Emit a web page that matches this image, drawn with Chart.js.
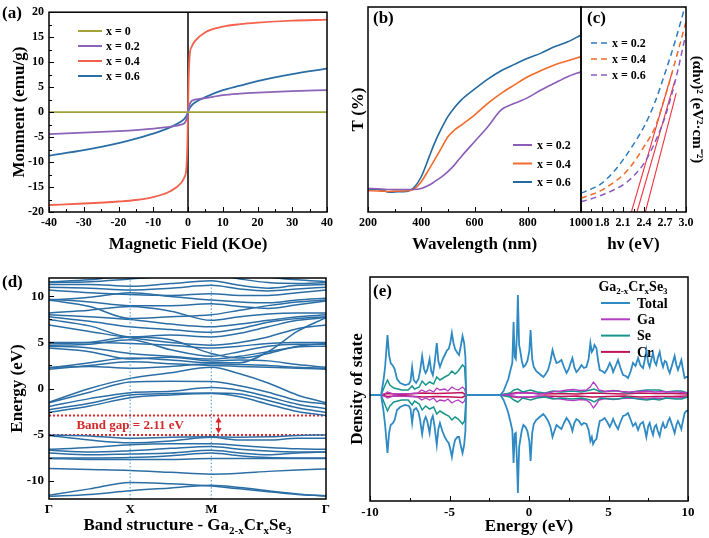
<!DOCTYPE html>
<html>
<head>
<meta charset="utf-8">
<script src="https://cdn.jsdelivr.net/npm/chart.js@4.4.1/dist/chart.umd.min.js"></script>
<style>
  body { margin: 0; background: #fff; }
  #wrap { position: relative; width: 709px; height: 538px; overflow: hidden; background: #fff; }
  #wrap canvas { position: absolute; }
</style>
</head>
<body>
<div id="wrap">
  <canvas id="chartA" width="345" height="262" style="left:0;top:0"></canvas>
  <canvas id="chartB" width="262" height="262" style="left:340px;top:0"></canvas>
  <canvas id="chartC" width="149" height="262" style="left:560px;top:0"></canvas>
  <canvas id="chartD" width="345" height="276" style="left:0;top:262px"></canvas>
  <canvas id="chartE" width="369" height="276" style="left:340px;top:262px"></canvas>
</div>
<script>
// (a) magnetisation loops
const fieldA = [-40, -30, -20, -15, -10, -5, -2, -1, -0.5, -0.2, 0, 0.2, 0.5, 1, 2, 5, 10, 15, 20, 30, 40];
const moment0 = [0, 0, 0, 0, 0, 0, 0, 0, 0, 0, 0, 0, 0, 0, 0, 0, 0, 0, 0, 0, 0];
const moment02 = [-4.4, -4.1, -3.8, -3.6, -3.3, -2.9, -2.5, -2.2, -1.6, -0.8, 0, 0.8, 1.6, 2.2, 2.5, 2.8, 3.4, 3.7, 3.9, 4.2, 4.4];
const moment04 = [-18.6, -18.3, -17.9, -17.6, -17.0, -15.8, -14.2, -13.0, -11.5, -7.0, 0, 7.0, 11.5, 13.0, 14.2, 16.0, 17.1, 17.6, 17.9, 18.3, 18.5];
const moment06 = [-8.7, -7.6, -6.2, -5.3, -4.3, -3.0, -1.9, -1.3, -0.8, -0.4, 0, 0.4, 0.8, 1.3, 1.9, 3.0, 4.4, 5.3, 6.2, 7.6, 8.7];

// (b) transmittance
const wavelength = [200, 250, 280, 300, 350, 370, 400, 430, 450, 475, 500, 525, 550, 600, 650, 700, 750, 800, 850, 900, 950, 1000];
const trans02 = [11.5, 11.2, 11.0, 11.0, 11.0, 11.0, 11.5, 13.2, 14.8, 17, 19.7, 23, 27, 34.3, 41.6, 49.8, 53, 55.8, 59.5, 62.8, 66, 68.4];
const trans04 = [10.4, 10.2, 10.0, 10.2, 10.4, 11.0, 14.8, 21, 25.4, 31, 36.7, 40, 42.4, 47.3, 53, 57.9, 62, 66, 69, 71.7, 73.8, 75.8];
const trans06 = [11.2, 10.8, 9.6, 9.8, 10.2, 11.5, 17.2, 27, 33.6, 40.5, 46.5, 51, 54.6, 59.9, 64.8, 68.9, 72, 75, 77.5, 80.6, 83, 86.3];

// (c) Tauc plot
const photonE = [1.5, 1.65, 1.8, 1.95, 2.1, 2.25, 2.4, 2.55, 2.7, 2.85, 3.0];
const tauc02 = [9.1, 11.3, 14.1, 19, 25.4, 33, 41.6, 53, 67.7, 83.9, 102];
const tauc04 = [6.7, 8.5, 10.7, 14, 18, 24, 31.9, 40.7, 56.2, 74, 92.8];
const tauc06 = [5, 6.5, 8.3, 10.5, 13.2, 17.5, 23.7, 33.5, 46.3, 64.4, 87.2];
const fit02 = [[2.22, 0], [2.80, 68]];
const fit04 = [[2.30, 0], [2.84, 64]];
const fit06 = [[2.42, 0], [2.86, 58]];

// (d) band structure, path G-X-M-G
const kPts = [0, 0.5, 1, 1.5, 2, 2.35, 2.7, 3.06, 3.414];
const kTicks = [0, 1, 2, 3.414];
const kLabels = ['Γ', 'X', 'M', 'Γ'];
const bands = [
  [-5.05, -5.15, -5.4, -5.3, -5.25, -5.3, -5.25, -5.1, -5.05],
  [-5.1, -5.6, -5.9, -5.7, -5.3, -5.6, -5.6, -5.4, -5.4],
  [-6.6, -6.4, -6.1, -6.0, -6.0, -6.2, -6.4, -6.55, -6.6],
  [-6.7, -6.9, -6.75, -6.5, -6.3, -6.6, -6.8, -6.9, -6.9],
  [-7.0, -7.2, -7.1, -7.0, -6.7, -7.0, -7.2, -7.0, -6.9],
  [-7.55, -7.55, -7.5, -7.3, -7.0, -7.3, -7.5, -7.55, -7.55],
  [-7.6, -7.7, -7.7, -7.7, -7.6, -7.6, -7.6, -7.6, -7.6],
  [-8.7, -8.8, -8.9, -9.1, -9.3, -9.2, -9.0, -8.85, -8.75],
  [-11.6, -10.9, -10.2, -10.35, -10.6, -10.9, -11.2, -11.5, -11.65],
  [-11.7, -11.5, -11.1, -10.8, -10.5, -10.75, -11.1, -11.45, -11.7],
  [-2.6, -1.9, -1.0, -0.7, -0.55, -0.9, -1.7, -2.5, -2.94],
  [-2.3, -1.6, -0.7, -0.55, -0.5, -0.6, -1.3, -2.1, -2.6],
  [-1.95, -1.1, -0.45, -0.3, 0.1, -0.2, -0.9, -1.7, -2.2],
  [-1.55, -0.4, 0.7, 0.8, 0.75, 0.3, -0.4, -1.3, -1.7],
  [-1.5, 0.0, 1.1, 1.7, 2.3, 1.6, 0.6, -0.7, -1.55],
  [2.1, 2.5, 2.9, 2.7, 2.5, 2.4, 2.3, 2.2, 2.1],
  [2.3, 2.4, 2.2, 2.4, 2.7, 2.6, 2.5, 2.3, 2.2],
  [2.2, 2.8, 3.3, 3.1, 2.8, 2.8, 4.0, 6.2, 7.7],
  [4.4, 4.0, 3.2, 3.4, 3.0, 3.1, 3.0, 2.6, 2.3],
  [4.6, 4.4, 3.8, 3.5, 3.2, 3.5, 4.0, 4.5, 4.6],
  [4.7, 4.8, 5.3, 4.2, 3.5, 4.0, 4.6, 4.8, 4.8],
  [4.9, 5.0, 5.6, 5.3, 3.8, 3.3, 3.8, 4.6, 4.9],
  [5.0, 5.0, 4.9, 4.7, 4.4, 4.6, 4.9, 5.0, 5.0],
  [6.9, 6.2, 5.5, 5.0, 4.7, 5.0, 5.6, 6.5, 6.9],
  [7.5, 6.8, 5.6, 5.8, 5.6, 6.0, 6.7, 7.4, 7.7],
  [7.8, 7.3, 6.7, 6.4, 6.1, 6.5, 7.2, 7.6, 7.8],
  [8.0, 7.8, 7.5, 7.0, 6.7, 7.0, 7.4, 7.8, 8.0],
  [8.2, 8.5, 8.9, 8.4, 7.4, 7.8, 8.1, 8.2, 8.2],
  [9.6, 8.9, 7.6, 7.8, 8.0, 8.5, 9.0, 9.4, 9.6],
  [9.7, 9.4, 9.0, 9.0, 9.2, 8.9, 8.7, 9.1, 9.5],
  [9.6, 9.9, 10.4, 10.0, 9.6, 9.4, 9.3, 9.6, 9.8],
  [10.7, 10.4, 10.2, 10.1, 10.3, 10.1, 10.1, 10.4, 10.7],
  [11.0, 10.9, 10.7, 10.9, 11.2, 10.8, 10.6, 10.8, 11.0],
  [11.3, 11.3, 11.1, 11.4, 11.7, 11.2, 10.9, 11.2, 11.3],
  [11.5, 11.6, 11.9, 12.2, 12.4, 11.9, 11.5, 11.4, 11.5],
  [11.6, 11.8, 12.3, 12.5, 12.6, 12.4, 12.1, 11.8, 11.6]
];
const gapTop = -2.94;
const gapBottom = -5.05;
const gapLabel = 'Band gap = 2.11 eV';

// (e) density of states, [energy, value]
const totalUp = [[-10,0],[-9.3,0],[-9.15,1.5],[-9.05,2.8],[-8.9,6.0],[-8.8,4.0],[-8.7,3.2],[-8.55,2.9],[-8.45,2.6],[-8.3,1.6],[-8.1,1.2],[-7.8,1.0],[-7.55,1.1],[-7.45,1.4],[-7.35,2.8],[-7.25,1.5],[-7.1,1.2],[-6.95,1.6],[-6.85,2.4],[-6.72,3.9],[-6.6,2.6],[-6.5,2.2],[-6.4,2.5],[-6.25,3.6],[-6.15,2.4],[-6.05,2.0],[-5.95,3.0],[-5.8,5.2],[-5.7,3.4],[-5.6,2.8],[-5.45,3.5],[-5.3,4.0],[-5.15,4.5],[-5.05,4.6],[-4.95,5.2],[-4.85,6.2],[-4.75,5.2],[-4.65,4.6],[-4.5,4.2],[-4.4,4.0],[-4.3,4.8],[-4.18,5.9],[-4.08,5.2],[-4.0,3.8],[-3.95,0],[-1.8,0],[-1.6,0.4],[-1.45,1.0],[-1.3,1.6],[-1.15,2.6],[-1.05,3.2],[-0.97,7.3],[-0.9,3.8],[-0.83,3.6],[-0.76,6.0],[-0.7,10.0],[-0.62,5.0],[-0.55,4.4],[-0.45,3.4],[-0.35,2.8],[-0.22,3.0],[-0.1,3.4],[0.02,4.4],[0.1,6.5],[0.2,3.6],[0.3,2.8],[0.45,2.4],[0.6,2.2],[0.75,2.0],[0.9,1.8],[1.05,2.1],[1.2,2.5],[1.35,3.4],[1.48,4.5],[1.6,3.8],[1.73,3.2],[1.88,3.3],[2.04,3.5],[2.2,2.8],[2.36,2.2],[2.5,2.6],[2.62,3.2],[2.73,3.7],[2.85,2.8],[2.98,2.3],[3.15,2.6],[3.3,3.0],[3.45,2.7],[3.61,2.8],[3.75,3.6],[3.86,5.2],[3.95,4.3],[4.03,4.5],[4.12,5.0],[4.24,4.7],[4.35,3.4],[4.45,2.5],[4.6,2.4],[4.76,2.2],[4.92,2.6],[5.08,3.2],[5.2,2.8],[5.29,2.3],[5.45,2.9],[5.6,3.5],[5.75,2.7],[5.92,2.0],[6.08,1.9],[6.23,1.7],[6.4,2.4],[6.54,3.2],[6.7,2.9],[6.86,3.7],[7.0,3.0],[7.17,2.7],[7.28,3.5],[7.38,4.5],[7.5,3.2],[7.59,2.8],[7.7,3.6],[7.8,4.2],[7.9,3.3],[8.0,3.0],[8.1,3.7],[8.22,4.3],[8.32,3.4],[8.43,2.8],[8.54,3.4],[8.64,3.3],[8.75,2.6],[8.85,2.2],[9.0,3.0],[9.16,3.9],[9.27,3.0],[9.37,2.5],[9.48,3.0],[9.58,3.5],[9.68,2.6],[9.79,1.7],[9.9,1.8],[10,1.8]];
const totalDown = [[-10,0],[-9.3,0],[-9.15,-1.6],[-9.05,-3.0],[-8.9,-5.8],[-8.8,-3.8],[-8.7,-3.0],[-8.55,-2.8],[-8.45,-2.5],[-8.3,-1.5],[-8.1,-1.2],[-7.8,-1.0],[-7.55,-1.1],[-7.45,-1.4],[-7.35,-2.8],[-7.25,-1.5],[-7.1,-1.3],[-6.95,-1.7],[-6.85,-2.5],[-6.72,-3.9],[-6.6,-2.6],[-6.5,-2.2],[-6.4,-2.6],[-6.25,-3.8],[-6.15,-2.5],[-6.05,-2.1],[-5.95,-3.0],[-5.8,-5.0],[-5.7,-3.4],[-5.6,-2.8],[-5.45,-3.6],[-5.3,-4.2],[-5.15,-4.6],[-5.05,-4.8],[-4.95,-5.4],[-4.85,-6.2],[-4.75,-5.2],[-4.65,-4.5],[-4.5,-4.2],[-4.4,-4.2],[-4.3,-5.0],[-4.18,-5.8],[-4.08,-5.0],[-4.0,-3.6],[-3.95,0],[-1.8,0],[-1.6,-0.5],[-1.45,-1.1],[-1.3,-1.8],[-1.15,-2.8],[-1.05,-3.5],[-0.97,-6.8],[-0.9,-3.9],[-0.83,-3.8],[-0.76,-6.5],[-0.7,-9.8],[-0.62,-5.2],[-0.55,-4.5],[-0.45,-3.5],[-0.35,-3.0],[-0.22,-3.2],[-0.1,-3.6],[0.02,-4.6],[0.1,-6.6],[0.2,-3.8],[0.3,-2.9],[0.45,-2.5],[0.6,-2.3],[0.75,-2.1],[0.9,-1.9],[1.05,-2.2],[1.2,-2.6],[1.35,-3.2],[1.48,-4.2],[1.6,-3.6],[1.73,-3.0],[1.88,-3.2],[2.04,-3.4],[2.2,-2.8],[2.36,-2.3],[2.5,-2.6],[2.62,-3.0],[2.73,-3.6],[2.85,-2.8],[2.98,-2.4],[3.15,-2.6],[3.3,-3.0],[3.45,-2.8],[3.61,-2.9],[3.75,-3.5],[3.86,-4.6],[3.95,-4.2],[4.03,-4.9],[4.12,-4.6],[4.24,-4.4],[4.35,-3.4],[4.45,-2.6],[4.6,-2.5],[4.76,-2.3],[4.92,-2.7],[5.08,-3.2],[5.2,-2.8],[5.29,-2.4],[5.45,-3.0],[5.6,-3.4],[5.75,-2.7],[5.92,-2.1],[6.08,-2.0],[6.23,-1.8],[6.4,-2.5],[6.54,-3.1],[6.7,-2.8],[6.86,-3.5],[7.0,-2.9],[7.17,-2.7],[7.28,-3.4],[7.38,-4.2],[7.5,-3.1],[7.59,-2.8],[7.7,-3.5],[7.8,-4.0],[7.9,-3.2],[8.0,-3.0],[8.1,-3.6],[8.22,-4.1],[8.32,-3.3],[8.43,-2.8],[8.54,-3.3],[8.64,-3.2],[8.75,-2.6],[8.85,-2.3],[9.0,-3.0],[9.16,-3.8],[9.27,-3.0],[9.37,-2.6],[9.48,-3.0],[9.58,-3.4],[9.68,-2.6],[9.79,-1.8],[9.9,-1.6],[10,-1.6]];
const seUp = [[-10,0],[-9.3,0],[-9.1,0.8],[-8.9,1.5],[-8.75,1.0],[-8.5,0.7],[-8.0,0.5],[-7.6,0.5],[-7.35,0.9],[-7.2,0.6],[-6.9,0.8],[-6.72,1.4],[-6.5,1.0],[-6.25,1.3],[-6.0,1.1],[-5.8,1.8],[-5.6,1.5],[-5.3,1.8],[-5.05,2.0],[-4.85,2.4],[-4.65,2.1],[-4.45,2.4],[-4.18,3.0],[-4.05,2.8],[-3.95,0],[-1.8,0],[-1.2,0.2],[-0.95,0.5],[-0.7,0.6],[-0.4,0.3],[0.1,0.5],[0.5,0.3],[1.0,0.2],[1.5,0.4],[2.0,0.3],[2.7,0.4],[3.3,0.3],[3.86,0.5],[4.1,0.6],[4.5,0.3],[5.1,0.4],[5.6,0.4],[6.2,0.2],[6.86,0.4],[7.4,0.5],[7.8,0.5],[8.2,0.5],[8.6,0.3],[9.2,0.4],[9.6,0.4],[10,0.2]];
const seDown = [[-10,0],[-9.3,0],[-9.1,-0.8],[-8.9,-1.6],[-8.75,-1.1],[-8.5,-0.7],[-8.0,-0.5],[-7.6,-0.5],[-7.35,-1.0],[-7.2,-0.6],[-6.9,-0.9],[-6.72,-1.5],[-6.5,-1.1],[-6.25,-1.4],[-6.0,-1.2],[-5.8,-1.9],[-5.6,-1.6],[-5.3,-1.9],[-5.05,-2.1],[-4.85,-2.5],[-4.65,-2.2],[-4.45,-2.4],[-4.18,-2.9],[-4.05,-2.6],[-3.95,0],[-1.8,0],[-1.2,-0.2],[-0.95,-0.5],[-0.7,-0.7],[-0.4,-0.3],[0.1,-0.5],[0.5,-0.3],[1.0,-0.2],[1.5,-0.4],[2.0,-0.3],[2.7,-0.4],[3.3,-0.3],[3.86,-0.5],[4.1,-0.7],[4.5,-0.3],[5.1,-0.4],[5.6,-0.4],[6.2,-0.2],[6.86,-0.4],[7.4,-0.5],[7.8,-0.4],[8.2,-0.5],[8.6,-0.3],[9.2,-0.4],[9.6,-0.4],[10,-0.2]];
const gaUp = [[-10,0],[-9.3,0],[-9.0,0.2],[-8.9,0.3],[-8.5,0.1],[-7.4,0.15],[-7.0,0.2],[-6.75,0.5],[-6.5,0.3],[-6.25,0.5],[-6.0,0.3],[-5.8,0.7],[-5.6,0.5],[-5.3,0.6],[-5.1,0.4],[-4.85,0.8],[-4.65,0.6],[-4.45,0.5],[-4.18,0.8],[-4.05,0.6],[-3.95,0],[-1.8,0],[-1.0,0.1],[-0.7,0.2],[0.1,0.2],[0.6,0.1],[1.2,0.2],[1.6,0.35],[2.0,0.4],[2.4,0.5],[2.8,0.55],[3.2,0.45],[3.6,0.5],[3.85,0.8],[4.05,1.3],[4.2,1.0],[4.4,0.5],[4.8,0.35],[5.3,0.45],[5.8,0.35],[6.3,0.3],[6.9,0.35],[7.4,0.4],[7.9,0.3],[8.4,0.35],[8.9,0.3],[9.4,0.3],[10,0.2]];
const gaDown = [[-10,0],[-9.3,0],[-9.0,-0.2],[-8.9,-0.3],[-8.5,-0.1],[-7.4,-0.15],[-7.0,-0.2],[-6.75,-0.5],[-6.5,-0.3],[-6.25,-0.5],[-6.0,-0.3],[-5.8,-0.7],[-5.6,-0.5],[-5.3,-0.6],[-5.1,-0.4],[-4.85,-0.8],[-4.65,-0.6],[-4.45,-0.5],[-4.18,-0.8],[-4.05,-0.6],[-3.95,0],[-1.8,0],[-1.0,-0.1],[-0.7,-0.2],[0.1,-0.2],[0.6,-0.1],[1.2,-0.2],[1.6,-0.35],[2.0,-0.4],[2.4,-0.5],[2.8,-0.55],[3.2,-0.45],[3.6,-0.5],[3.85,-0.8],[4.05,-1.3],[4.2,-1.0],[4.4,-0.5],[4.8,-0.35],[5.3,-0.45],[5.8,-0.35],[6.3,-0.3],[6.9,-0.35],[7.4,-0.4],[7.9,-0.3],[8.4,-0.35],[8.9,-0.3],[9.4,-0.3],[10,-0.2]];
const crUp = [[-10,0],[-9.3,0],[-8.9,0.15],[-8,0.05],[-6.7,0.2],[-5.8,0.15],[-4.8,0.2],[-4.2,0.25],[-3.95,0],[-1.8,0],[-0.7,0.25],[0.1,0.2],[1,0.1],[2,0.15],[3,0.1],[4,0.2],[5,0.15],[6,0.1],[7,0.2],[8,0.15],[9,0.15],[10,0.1]];
const crDown = [[-10,0],[-9.3,0],[-8.9,-0.15],[-8,-0.05],[-6.7,-0.2],[-5.8,-0.15],[-4.8,-0.2],[-4.2,-0.25],[-3.95,0],[-1.8,0],[-0.7,-0.25],[0.1,-0.2],[1,-0.1],[2,-0.15],[3,-0.1],[4,-0.2],[5,-0.15],[6,-0.1],[7,-0.2],[8,-0.15],[9,-0.15],[10,-0.1]];


const SERIF = '"Liberation Serif", "Times New Roman", serif';
Chart.defaults.font.family = SERIF;
Chart.defaults.font.weight = 'bold';
Chart.defaults.color = '#000';
Chart.defaults.animation = false;
Chart.defaults.plugins.legend.display = false;
Chart.defaults.plugins.tooltip.enabled = false;
Chart.defaults.elements.point.radius = 0;

function pairs(xs, ys) {
    return xs.map(function(x, i) { return {x: x, y: ys[i]}; });
}

function fromPairs(list) {
    return list.map(function(p) { return {x: p[0], y: p[1]}; });
}

function drawRich(ctx, parts, x, y, size, align) {
    const fonts = parts.map(p => `bold ${p.sub ? Math.round(size * 0.62) : size}px ${SERIF}`);
    const widths = parts.map((p, i) => { ctx.font = fonts[i]; return ctx.measureText(p.t).width; });
    const total = widths.reduce((s, w) => s + w, 0);
    let cx = align === 'center' ? x - total / 2 : x;
    ctx.textAlign = 'left';
    ctx.textBaseline = 'middle';
    parts.forEach((p, i) => {
        ctx.font = fonts[i];
        ctx.fillText(p.t, cx, p.sub ? y + size * 0.3 : y);
        cx += widths[i];
    });
}

// box round the plot area, with inward ticks (major + minor)
const framePlugin = {
    id: 'frame',
    afterDatasetsDraw(chart, args, opts) {
        const ctx = chart.ctx, a = chart.chartArea;
        ctx.save();
        ctx.strokeStyle = '#000';
        ctx.lineWidth = 1;
        (opts.axes || []).forEach(function(id) {
            const s = chart.scales[id];
            const vals = s.ticks.map(t => t.value);
            const marks = [];
            vals.forEach(function(v, i) {
                marks.push([v, 5]);
                if (i < vals.length - 1) marks.push([(v + vals[i + 1]) / 2, 3]);
            });
            marks.forEach(function(m) {
                const p = Math.round(s.getPixelForValue(m[0])) + 0.5;
                ctx.beginPath();
                if (s.isHorizontal()) { ctx.moveTo(p, a.bottom); ctx.lineTo(p, a.bottom - m[1]); }
                else { ctx.moveTo(a.left, p); ctx.lineTo(a.left + m[1], p); }
                ctx.stroke();
            });
        });
        ctx.lineWidth = 1.5;
        ctx.strokeRect(a.left, a.top, a.right - a.left, a.bottom - a.top);
        ctx.restore();
    }
};

// free text: panel letters, titles with subscripts
const notePlugin = {
    id: 'notes',
    afterDraw(chart, args, opts) {
        const ctx = chart.ctx;
        (opts.items || []).forEach(function(it) {
            let x = it.x, y = it.y;
            if (it.xv !== undefined) x = chart.scales.x.getPixelForValue(it.xv);
            if (it.yv !== undefined) y = chart.scales.y.getPixelForValue(it.yv);
            ctx.save();
            ctx.fillStyle = it.color || '#000';
            drawRich(ctx, it.parts, x, y, it.size, it.align || 'left');
            ctx.restore();
        });
    }
};

// legend drawn inside the plot
const keyPlugin = {
    id: 'key',
    afterDraw(chart, args, opts) {
        if (!opts.rows) return;
        const ctx = chart.ctx;
        opts.rows.forEach(function(dsIndex, i) {
            const ds = chart.data.datasets[dsIndex];
            const y = opts.y0 + i * opts.dy;
            ctx.save();
            ctx.strokeStyle = ds.borderColor;
            ctx.lineWidth = opts.lineWidth || 2;
            ctx.setLineDash(ds.borderDash || []);
            ctx.beginPath();
            ctx.moveTo(opts.x1, y);
            ctx.lineTo(opts.x2, y);
            ctx.stroke();
            ctx.setLineDash([]);
            ctx.fillStyle = '#000';
            ctx.font = `bold ${opts.size}px ${SERIF}`;
            ctx.textBaseline = 'middle';
            ctx.textAlign = 'left';
            ctx.fillText(ds.label, opts.tx, y + 1);
            ctx.restore();
        });
    }
};

Chart.register(framePlugin, notePlugin, keyPlugin);

function plainAxis(extra) {
    return Object.assign({
        type: 'linear',
        grid: {display: false, drawTicks: false},
        border: {display: false}
    }, extra);
}

function line(label, data, color, width, extra) {
    return Object.assign({label: label, data: data, borderColor: color, borderWidth: width, fill: false}, extra || {});
}


// ---------- (a) ----------
new Chart(document.getElementById('chartA'), {
    type: 'line',
    data: {
        datasets: [
            line('x = 0', pairs(fieldA, moment0), '#a2a236', 1.8),
            line('x = 0.2', pairs(fieldA, moment02), '#8b63b8', 1.8),
            line('x = 0.4', pairs(fieldA, moment04), '#f2624c', 1.8),
            line('x = 0.6', pairs(fieldA, moment06), '#2b6ea6', 1.8),
            line('', [{x: 0, y: -20}, {x: 0, y: 20}], '#000', 1.5)
        ]
    },
    options: {
        responsive: false,
        layout: {padding: {top: 7, right: 18, left: 0, bottom: 0}},
        elements: {line: {cubicInterpolationMode: 'monotone'}},
        scales: {
            x: plainAxis({
                min: -40, max: 40,
                ticks: {stepSize: 10, padding: 4, font: {size: 12}, maxRotation: 0, autoSkip: false},
                title: {display: true, text: 'Magnetic Field (KOe)', font: {size: 17}, padding: {top: 0, bottom: 7}},
                afterFit: s => { s.height = 50; }
            }),
            y: plainAxis({
                min: -20, max: 20,
                ticks: {stepSize: 5, padding: 5, font: {size: 12}},
                title: {display: true, text: 'Monment (emu/g)', font: {size: 17}, padding: {top: 9, bottom: 0}},
                afterFit: s => { s.width = 49; }
            })
        },
        plugins: {
            frame: {axes: ['x', 'y']},
            key: {rows: [0, 1, 2, 3], x1: 78, x2: 102, tx: 106, y0: 31, dy: 15, size: 12},
            notes: {items: [{parts: [{t: '(a)'}], x: 2, y: 14, size: 17}]}
        }
    }
});


// ---------- (b) ----------
new Chart(document.getElementById('chartB'), {
    type: 'line',
    data: {
        datasets: [
            line('x = 0.2', pairs(wavelength, trans02), '#8b5cb8', 1.6),
            line('x = 0.4', pairs(wavelength, trans04), '#f26b2a', 1.6),
            line('x = 0.6', pairs(wavelength, trans06), '#24699f', 1.6)
        ]
    },
    options: {
        responsive: false,
        layout: {padding: {top: 7, right: 21, left: 0, bottom: 0}},
        elements: {line: {cubicInterpolationMode: 'monotone'}},
        scales: {
            x: plainAxis({
                min: 200, max: 1000,
                ticks: {stepSize: 200, padding: 4, font: {size: 12}, maxRotation: 0, autoSkip: false,
                        callback: v => String(v)},
                title: {display: true, text: 'Wavelength (nm)', font: {size: 17}, padding: {top: 0, bottom: 7}},
                afterFit: s => { s.height = 50; }
            }),
            y: plainAxis({
                min: 0, max: 100,
                ticks: {display: false},
                title: {display: true, text: 'T (%)', font: {size: 17}, padding: {top: 8, bottom: 0}},
                afterFit: s => { s.width = 28; }
            })
        },
        plugins: {
            frame: {axes: ['x']},
            key: {rows: [0, 1, 2], x1: 173, x2: 192, tx: 197, y0: 145, dy: 18.5, size: 12},
            notes: {items: [{parts: [{t: '(b)'}], x: 33, y: 19, size: 17}]}
        }
    }
});


// ---------- (c) ----------
new Chart(document.getElementById('chartC'), {
    type: 'line',
    data: {
        datasets: [
            line('x = 0.2', pairs(photonE, tauc02), '#2c7bbf', 1.5, {borderDash: [6, 4]}),
            line('x = 0.4', pairs(photonE, tauc04), '#f06a28', 1.5, {borderDash: [6, 4]}),
            line('x = 0.6', pairs(photonE, tauc06), '#8b5cc0', 1.5, {borderDash: [6, 4]}),
            line('', fromPairs(fit02), '#ee3340', 1.1, {tension: 0}),
            line('', fromPairs(fit04), '#ee3340', 1.1, {tension: 0}),
            line('', fromPairs(fit06), '#ee3340', 1.1, {tension: 0})
        ]
    },
    options: {
        responsive: false,
        layout: {padding: {top: 7, right: 0, left: 21, bottom: 0}},
        elements: {line: {cubicInterpolationMode: 'monotone'}},
        scales: {
            x: plainAxis({
                min: 1.5, max: 3.0,
                ticks: {stepSize: 0.3, padding: 4, font: {size: 12}, maxRotation: 0, autoSkip: false,
                        callback: (v, i) => i === 0 ? '' : Number(v).toFixed(1)},
                title: {display: true, text: 'hν (eV)', font: {size: 17}, padding: {top: 0, bottom: 7}},
                afterFit: s => { s.height = 50; }
            }),
            y: plainAxis({
                position: 'right',
                min: 0, max: 100,
                ticks: {display: false},
                title: {display: true, text: '(αhν)² (eV²·cm⁻²)', font: {size: 15}, padding: {top: 3, bottom: 0}},
                afterFit: s => { s.width = 23; }
            })
        },
        plugins: {
            frame: {axes: ['x']},
            key: {rows: [0, 1, 2], x1: 31, x2: 48, tx: 52, y0: 43, dy: 16, size: 12, lineWidth: 1.5},
            notes: {items: [{parts: [{t: '(c)'}], x: 27, y: 19, size: 17}]}
        }
    }
});


// ---------- (d) ----------
const bandSets = bands.map(b => line('', pairs(kPts, b), '#2b6ea5', 1.5));
const guideSets = [
    line('', [{x: 1, y: -12}, {x: 1, y: 12}], '#3d93d3', 1, {borderDash: [1.5, 2], tension: 0}),
    line('', [{x: 2, y: -12}, {x: 2, y: 12}], '#3d93d3', 1, {borderDash: [1.5, 2], tension: 0}),
    line('', [{x: 0, y: gapTop}, {x: 3.414, y: gapTop}], '#e0262d', 2, {borderDash: [2, 2], tension: 0}),
    line('', [{x: 0, y: gapBottom}, {x: 3.414, y: gapBottom}], '#e0262d', 2, {borderDash: [2, 2], tension: 0})
];
const gapArrow = {
    id: 'gapArrow',
    afterDatasetsDraw(chart) {
        const ctx = chart.ctx, xs = chart.scales.x, ys = chart.scales.y;
        const px = Math.round(xs.getPixelForValue(2.08)) + 0.5;
        const y1 = ys.getPixelForValue(gapTop), y2 = ys.getPixelForValue(gapBottom);
        ctx.save();
        ctx.strokeStyle = '#d7262b';
        ctx.fillStyle = '#d7262b';
        ctx.lineWidth = 1.2;
        ctx.beginPath(); ctx.moveTo(px, y1 + 4); ctx.lineTo(px, y2 - 4); ctx.stroke();
        ctx.beginPath(); ctx.moveTo(px, y1 + 1.5); ctx.lineTo(px - 3, y1 + 7); ctx.lineTo(px + 3, y1 + 7); ctx.fill();
        ctx.beginPath(); ctx.moveTo(px, y2 - 1.5); ctx.lineTo(px - 3, y2 - 7); ctx.lineTo(px + 3, y2 - 7); ctx.fill();
        ctx.restore();
    }
};
new Chart(document.getElementById('chartD'), {
    type: 'line',
    data: {datasets: guideSets.slice(0, 2).concat(bandSets, guideSets.slice(2))},
    options: {
        responsive: false,
        layout: {padding: {top: 16, right: 19, left: 0, bottom: 0}},
        elements: {line: {cubicInterpolationMode: 'monotone'}},
        scales: {
            x: plainAxis({
                min: 0, max: 3.414,
                afterBuildTicks: s => { s.ticks = kTicks.map(v => ({value: v})); },
                ticks: {padding: 2.5, font: {size: 13}, maxRotation: 0, autoSkip: false,
                        callback: (v, i) => kLabels[i]},
                afterFit: s => { s.height = 39; }
            }),
            y: plainAxis({
                min: -12, max: 12,
                ticks: {stepSize: 5, includeBounds: false, padding: 5, font: {size: 13}},
                title: {display: true, text: 'Energy (eV)', font: {size: 17}, padding: {top: 7, bottom: 0}},
                afterFit: s => { s.width = 49; }
            })
        },
        plugins: {
            frame: {axes: ['y']},
            notes: {items: [
                {parts: [{t: '(d)'}], x: 2, y: 21, size: 17},
                {parts: [{t: gapLabel}], xv: 1.0, yv: (gapTop + gapBottom) / 2, size: 13, color: '#d42a2a', align: 'center'},
                {parts: [{t: 'Band structure - Ga'}, {t: '2-x', sub: true}, {t: 'Cr'}, {t: 'x', sub: true}, {t: 'Se'}, {t: '3', sub: true}],
                 x: 187.5, y: 264, size: 17, align: 'center'}
            ]}
        }
    },
    plugins: [gapArrow]
});


// ---------- (e) ----------
new Chart(document.getElementById('chartE'), {
    type: 'line',
    data: {
        datasets: [
            line('Total', fromPairs(totalUp), '#2f8ac3', 1.8),
            line('Ga', fromPairs(gaUp), '#b43cc2', 1.3),
            line('Se', fromPairs(seUp), '#17958c', 1.5),
            line('Cr', fromPairs(crUp), '#c0145a', 1.6),
            line('', fromPairs(totalDown), '#2f8ac3', 1.8),
            line('', fromPairs(seDown), '#17958c', 1.5),
            line('', fromPairs(gaDown), '#b43cc2', 1.3),
            line('', fromPairs(crDown), '#c0145a', 1.6)
        ]
    },
    options: {
        responsive: false,
        layout: {padding: {top: 15, right: 21, left: 0, bottom: 0}},
        elements: {line: {tension: 0}},
        scales: {
            x: plainAxis({
                min: -10, max: 10,
                ticks: {stepSize: 5, padding: 4, font: {size: 13}, maxRotation: 0, autoSkip: false},
                title: {display: true, text: 'Energy (eV)', font: {size: 17}, padding: {top: 0, bottom: 1}},
                afterFit: s => { s.height = 37; }
            }),
            y: plainAxis({
                min: -10.6, max: 11.8,
                ticks: {display: false},
                title: {display: true, text: 'Density of state', font: {size: 17}, padding: {top: 7, bottom: 0}},
                afterFit: s => { s.width = 30; }
            })
        },
        plugins: {
            frame: {axes: ['x']},
            key: {rows: [0, 1, 2, 3], x1: 261, x2: 290, tx: 297, y0: 41, dy: 16.3, size: 14},
            notes: {items: [
                {parts: [{t: '(e)'}], x: 33, y: 30, size: 17},
                {parts: [{t: 'Ga'}, {t: '2-x', sub: true}, {t: 'Cr'}, {t: 'x', sub: true}, {t: 'Se'}, {t: '3', sub: true}],
                 x: 293, y: 25, size: 14, align: 'center'}
            ]}
        }
    }
});
</script>
</body>
</html>
